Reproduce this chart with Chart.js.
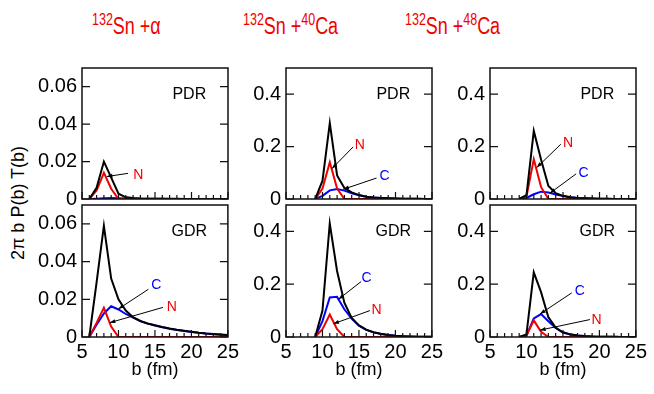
<!DOCTYPE html>
<html>
<head>
<meta charset="utf-8">
<script src="https://cdn.jsdelivr.net/npm/chart.js@4.4.1/dist/chart.umd.min.js"></script>
<style>
body{margin:0;width:654px;height:394px;background:#fff;position:relative;overflow:hidden;font-family:"Liberation Sans",Arial,sans-serif;}
canvas{position:absolute;}
.title{position:absolute;top:15px;color:#f00000;font-size:23px;line-height:23px;white-space:nowrap;transform-origin:left top;transform:scaleX(0.78);}
.title span{font-size:16px;position:relative;top:-9px;}
#ylab{position:absolute;left:18px;top:203px;transform:translate(-50%,-50%) rotate(-90deg);font-size:18px;white-space:nowrap;color:#000;}
</style>
</head>
<body>
<div class="title" style="left:92px"><span>132</span>Sn +α</div>
<div class="title" style="left:243px"><span>132</span>Sn +<span>40</span>Ca</div>
<div class="title" style="left:405px"><span>132</span>Sn +<span>48</span>Ca</div>
<div id="ylab">2π b P(b) T(b)</div>
<canvas id="c1"></canvas>
<canvas id="c2"></canvas>
<canvas id="c3"></canvas>
<canvas id="c4"></canvas>
<canvas id="c5"></canvas>
<canvas id="c6"></canvas>
<script>
// impact parameter grids (fm)
const bAlpha = [6,7,8,9,10,11,12,13,14,15,16,17,18,19,20,21,22,23,24,25];
const bCa = [9,10,11,12,13,14,15,16,17,18,19,20,21,22,23,24,25];

// tick labels
const xTickValues = [5,10,15,20,25];
const yTicksAlpha = [0,0.02,0.04,0.06];
const yTicksCa = [0,0.2,0.4];

// 132Sn + alpha
const pdrAlphaTotal = [0,0.006,0.020,0.0114,0.0028,0.0009,0.0005,0.0003,0.0002,0.00015,0.0001,0.0001,0.00008,0.00006,0.00005,0.00004,0.00003,0.00003,0.00002,0.00002];
const pdrAlphaC = [0,0.0002,0.0004,0.0005,0.0004,0.0003,0.0002,0.00015,0.0001,0.0001,0.00008,0.00006,0.00005,0.00004,0.00003,0.00003,0.00002,0.00002,0.00001,0.00001];
const pdrAlphaN = [0,0.0045,0.014,0.0055,0,0,0,0,0,0,0,0,0,0,0,0,0,0,0,0];
const gdrAlphaTotal = [0,0.029,0.059,0.031,0.020,0.014,0.0105,0.0085,0.0072,0.0062,0.0053,0.0045,0.0038,0.0033,0.0028,0.0023,0.0019,0.0016,0.0013,0.001];
const gdrAlphaC = [0,0.0065,0.0125,0.0163,0.0146,0.0122,0.0103,0.0084,0.0071,0.0061,0.0052,0.0044,0.0037,0.0032,0.0027,0.0022,0.0018,0.0015,0.0012,0.0009];
const gdrAlphaN = [0,0.0075,0.0155,0.0055,0,0,0,0,0,0,0,0,0,0,0,0,0,0,0,0];

// 132Sn + 40Ca
const pdrCa40Total = [0,0.07,0.29,0.09,0.042,0.025,0.015,0.009,0.006,0.004,0.0025,0.0016,0.001,0.0007,0.0005,0.0003,0.0002];
const pdrCa40C = [0,0.012,0.033,0.038,0.032,0.022,0.014,0.0085,0.0057,0.0038,0.0024,0.0015,0.001,0.0007,0.0005,0.0003,0.0002];
const pdrCa40N = [0,0.04,0.14,0.04,0,0,0,0,0,0,0,0,0,0,0,0,0];
const gdrCa40Total = [0,0.10,0.43,0.25,0.13,0.072,0.044,0.028,0.018,0.012,0.008,0.005,0.0032,0.002,0.0013,0.0008,0.0005];
const gdrCa40C = [0,0.06,0.15,0.152,0.105,0.07,0.043,0.027,0.0175,0.0117,0.0078,0.0049,0.0031,0.002,0.0013,0.0008,0.0005];
const gdrCa40N = [0,0.03,0.085,0.03,0,0,0,0,0,0,0,0,0,0,0,0,0];

// 132Sn + 48Ca
const pdrCa48Total = [0,0.015,0.26,0.15,0.05,0.022,0.012,0.007,0.004,0.0025,0.0015,0.001,0.0006,0.0004,0.0003,0.0002,0.0001];
const pdrCa48C = [0,0.004,0.018,0.028,0.025,0.017,0.011,0.0068,0.0039,0.0024,0.0015,0.001,0.0006,0.0004,0.0003,0.0002,0.0001];
const pdrCa48N = [0,0.01,0.152,0.045,0,0,0,0,0,0,0,0,0,0,0,0,0];
const gdrCa48Total = [0,0.01,0.245,0.17,0.075,0.036,0.018,0.01,0.006,0.0035,0.002,0.0012,0.0008,0.0005,0.0003,0.0002,0.0001];
const gdrCa48C = [0,0.004,0.07,0.087,0.06,0.034,0.017,0.0095,0.0057,0.0033,0.0019,0.0011,0.0007,0.0005,0.0003,0.0002,0.0001];
const gdrCa48N = [0,0.006,0.063,0.02,0,0,0,0,0,0,0,0,0,0,0,0,0];

const RED = '#f00000', BLUE = '#0000ff', FONT = '"Liberation Sans", Arial, sans-serif';
const colLeft = [82, 286, 490];
const rowTop = [65, 202];
const rowH = [137, 135];

// arrow notes in data coordinates: label position, line start, arrow tip
const panels = [
    {id:'c1', col:0, row:0, xs:bAlpha, total:pdrAlphaTotal, c:pdrAlphaC, n:pdrAlphaN, yMax:0.07, yTicks:yTicksAlpha, tag:'PDR',
     notes:[{t:'N', col:RED, at:[12.7,0.0129], from:[11.3,0.0137], to:[8.4,0.012]}]},
    {id:'c2', col:1, row:0, xs:bCa, total:pdrCa40Total, c:pdrCa40C, n:pdrCa40N, yMax:0.5, yTicks:yTicksCa, tag:'PDR',
     notes:[{t:'N', col:RED, at:[15.1,0.207], from:[14.2,0.199], to:[11.3,0.116]},
            {t:'C', col:BLUE, at:[18.5,0.086], from:[17.4,0.08], to:[12.85,0.037]}]},
    {id:'c3', col:2, row:0, xs:bCa, total:pdrCa48Total, c:pdrCa48C, n:pdrCa48N, yMax:0.5, yTicks:yTicksCa, tag:'PDR',
     notes:[{t:'N', col:RED, at:[15.7,0.212], from:[14.7,0.209], to:[11.4,0.12]},
            {t:'C', col:BLUE, at:[17.8,0.10], from:[16.8,0.096], to:[13.2,0.022]}]},
    {id:'c4', col:0, row:1, xs:bAlpha, total:gdrAlphaTotal, c:gdrAlphaC, n:gdrAlphaN, yMax:0.07, yTicks:yTicksAlpha, tag:'GDR',
     notes:[{t:'C', col:BLUE, at:[15.2,0.0273], from:[14.1,0.0253], to:[10.0,0.0149]},
            {t:'N', col:RED, at:[17.3,0.0157], from:[16.1,0.0157], to:[8.8,0.0076]}]},
    {id:'c5', col:1, row:1, xs:bCa, total:gdrCa40Total, c:gdrCa40C, n:gdrCa40N, yMax:0.5, yTicks:yTicksCa, tag:'GDR',
     notes:[{t:'C', col:BLUE, at:[16.05,0.222], from:[15.3,0.21], to:[12.2,0.143]},
            {t:'N', col:RED, at:[17.4,0.10], from:[16.5,0.1], to:[11.5,0.05]}]},
    {id:'c6', col:2, row:1, xs:bCa, total:gdrCa48Total, c:gdrCa48C, n:gdrCa48N, yMax:0.5, yTicks:yTicksCa, tag:'GDR',
     notes:[{t:'C', col:BLUE, at:[17.3,0.173], from:[16.2,0.167], to:[11.85,0.087]},
            {t:'N', col:RED, at:[19.6,0.063], from:[18.7,0.066], to:[11.85,0.026]}]}
];

function pts(xs, ys){
    return xs.map((x, i) => ({x: x, y: ys[i]}));
}

function framePlugin(p){
    return {
        id: 'frame',
        afterDraw(chart){
            const ctx = chart.ctx, a = chart.chartArea;
            const x = chart.scales.x, y = chart.scales.y;
            ctx.save();
            ctx.strokeStyle = '#111';
            ctx.lineWidth = 1.5;
            ctx.strokeRect(a.left, a.top, a.right - a.left, a.bottom - a.top);
            ctx.lineWidth = 1.2;
            ctx.beginPath();
            // inward x ticks, minor every 1 fm
            for (let b = x.min; b <= x.max; b++) {
                const px = x.getPixelForValue(b);
                const len = (b % 5 === 0) ? 7 : 4;
                ctx.moveTo(px, a.bottom);
                ctx.lineTo(px, a.bottom - len);
            }
            // inward y ticks on both sides
            y.ticks.forEach(t => {
                const py = y.getPixelForValue(t.value);
                ctx.moveTo(a.left, py); ctx.lineTo(a.left + 8, py);
                ctx.moveTo(a.right, py); ctx.lineTo(a.right - 8, py);
            });
            ctx.stroke();

            ctx.fillStyle = '#000';
            ctx.font = '16px ' + FONT;
            ctx.textAlign = 'center';
            ctx.textBaseline = 'middle';
            ctx.fillText(p.tag, x.getPixelForValue(19.7), y.getPixelForValue(p.yMax * 0.8));

            p.notes.forEach(nt => {
                const x0 = x.getPixelForValue(nt.from[0]), y0 = y.getPixelForValue(nt.from[1]);
                const x1 = x.getPixelForValue(nt.to[0]), y1 = y.getPixelForValue(nt.to[1]);
                ctx.strokeStyle = '#000';
                ctx.lineWidth = 1;
                ctx.beginPath();
                ctx.moveTo(x0, y0);
                ctx.lineTo(x1, y1);
                ctx.stroke();
                const ang = Math.atan2(y1 - y0, x1 - x0);
                ctx.beginPath();
                ctx.moveTo(x1, y1);
                ctx.lineTo(x1 - 6 * Math.cos(ang - 0.35), y1 - 6 * Math.sin(ang - 0.35));
                ctx.lineTo(x1 - 6 * Math.cos(ang + 0.35), y1 - 6 * Math.sin(ang + 0.35));
                ctx.closePath();
                ctx.fillStyle = '#000';
                ctx.fill();
                ctx.fillStyle = nt.col;
                ctx.font = '14px ' + FONT;
                ctx.fillText(nt.t, x.getPixelForValue(nt.at[0]), y.getPixelForValue(nt.at[1]));
            });
            ctx.restore();
        }
    };
}

function makePanel(p){
    const bottom = p.row === 1;
    const canvas = document.getElementById(p.id);
    const L = colLeft[p.col], T = rowTop[p.row];
    canvas.width = 62 + 146 + 14;
    canvas.height = bottom ? 14 + rowH[1] + 48 + 4 : 14 + rowH[0] + 14;
    canvas.style.left = (L - 62) + 'px';
    canvas.style.top = (T - 14) + 'px';

    new Chart(canvas, {
        type: 'line',
        data: {
            datasets: [
                {data: pts(p.xs, p.total), borderColor: '#000', borderWidth: 2},
                {data: pts(p.xs, p.n), borderColor: RED, borderWidth: 2},
                {data: pts(p.xs, p.c), borderColor: BLUE, borderWidth: 2}
            ]
        },
        options: {
            responsive: false,
            animation: false,
            events: [],
            elements: {point: {radius: 0}, line: {tension: 0}},
            layout: {padding: {top: 14, bottom: bottom ? 4 : 14, left: 0, right: 14}},
            plugins: {legend: {display: false}, tooltip: {enabled: false}},
            scales: {
                x: {
                    type: 'linear', min: 5, max: 25,
                    grid: {display: false, drawTicks: false},
                    border: {display: false},
                    afterBuildTicks: s => { s.ticks = xTickValues.map(v => ({value: v})); },
                    afterFit: s => { s.height = bottom ? 48 : 0; },
                    ticks: {display: bottom, color: '#000', padding: 3, maxRotation: 0, autoSkip: false,
                            font: {family: FONT, size: 20}},
                    title: {display: bottom, text: 'b (fm)', color: '#000', padding: {top: 0, bottom: 4},
                            font: {family: FONT, size: 18}}
                },
                y: {
                    min: 0, max: p.yMax,
                    grid: {display: false, drawTicks: false},
                    border: {display: false},
                    afterBuildTicks: s => { s.ticks = p.yTicks.map(v => ({value: v})); },
                    afterFit: s => { s.width = 62; },
                    ticks: {color: '#000', padding: 5, font: {family: FONT, size: 20}}
                }
            }
        },
        plugins: [framePlugin(p)]
    });
}

panels.forEach(makePanel);
</script>
</body>
</html>
